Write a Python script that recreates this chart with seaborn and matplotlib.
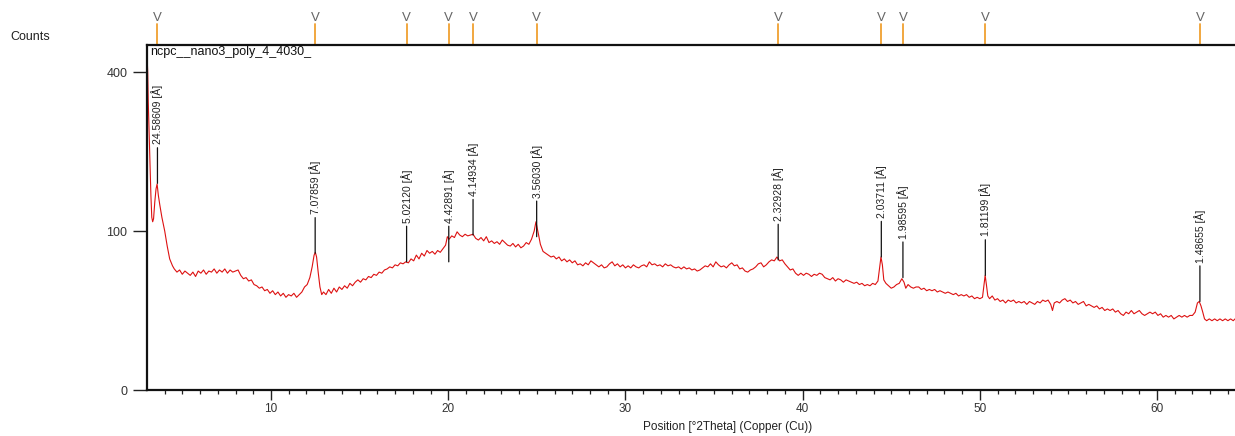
import numpy as np
import matplotlib
matplotlib.use("Agg")
import matplotlib.pyplot as plt
import seaborn as sns

sample_name = "ncpc__nano3_poly_4_4030_"

# scan (2theta in degrees, counts)
two_theta = [
    3.00, 3.04, 3.07, 3.12, 3.17, 3.22, 3.27, 3.32, 3.37, 3.44, 3.51, 3.57, 3.64, 3.72, 3.84, 4.00,
    4.14, 4.28, 4.44, 4.54, 4.69, 4.84, 4.99, 5.14, 5.29, 5.44, 5.59, 5.74, 5.89, 6.04, 6.19, 6.34,
    6.49, 6.64, 6.79, 6.94, 7.09, 7.24, 7.39, 7.54, 7.69, 7.84, 7.99, 8.14, 8.29, 8.44, 8.59, 8.74,
    8.89, 9.04, 9.19, 9.34, 9.49, 9.64, 9.79, 9.94, 10.09, 10.24, 10.39, 10.54, 10.69, 10.84, 10.99,
    11.14, 11.29, 11.44, 11.59, 11.74, 11.89, 12.04, 12.19, 12.32, 12.43, 12.50, 12.57, 12.66, 12.76,
    12.86, 12.96, 13.10, 13.25, 13.40, 13.55, 13.70, 13.85, 14.00, 14.15, 14.30, 14.45, 14.60, 14.75,
    14.90, 15.05, 15.20, 15.35, 15.50, 15.65, 15.80, 15.95, 16.10, 16.25, 16.40, 16.55, 16.70, 16.85,
    17.00, 17.15, 17.30, 17.45, 17.60, 17.75, 17.90, 18.05, 18.20, 18.35, 18.50, 18.65, 18.80, 18.95,
    19.10, 19.25, 19.40, 19.55, 19.70, 19.85, 19.95, 20.05, 20.20, 20.35, 20.50, 20.65, 20.80, 20.95,
    21.10, 21.25, 21.40, 21.55, 21.70, 21.85, 22.00, 22.15, 22.30, 22.45, 22.60, 22.75, 22.90, 23.05,
    23.20, 23.35, 23.50, 23.65, 23.80, 23.95, 24.10, 24.25, 24.40, 24.55, 24.70, 24.85, 24.95, 25.02,
    25.10, 25.20, 25.35, 25.50, 25.65, 25.80, 25.95, 26.10, 26.25, 26.40, 26.55, 26.70, 26.85, 27.00,
    27.15, 27.30, 27.45, 27.60, 27.75, 27.90, 28.05, 28.20, 28.35, 28.50, 28.65, 28.80, 28.95, 29.10,
    29.25, 29.40, 29.55, 29.70, 29.85, 30.00, 30.15, 30.30, 30.45, 30.60, 30.75, 30.90, 31.05, 31.20,
    31.35, 31.50, 31.65, 31.80, 31.95, 32.10, 32.25, 32.40, 32.55, 32.70, 32.85, 33.00, 33.15, 33.30,
    33.45, 33.60, 33.75, 33.90, 34.05, 34.20, 34.35, 34.50, 34.65, 34.80, 34.95, 35.10, 35.25, 35.40,
    35.55, 35.70, 35.85, 36.00, 36.15, 36.30, 36.45, 36.60, 36.75, 36.90, 37.05, 37.20, 37.35, 37.50,
    37.65, 37.80, 37.95, 38.10, 38.25, 38.40, 38.55, 38.70, 38.85, 39.00, 39.15, 39.30, 39.45, 39.60,
    39.75, 39.90, 40.05, 40.20, 40.35, 40.50, 40.65, 40.80, 40.95, 41.10, 41.25, 41.40, 41.55, 41.70,
    41.85, 42.00, 42.15, 42.30, 42.45, 42.60, 42.75, 42.90, 43.05, 43.20, 43.35, 43.50, 43.65, 43.80,
    43.95, 44.10, 44.25, 44.35, 44.42, 44.50, 44.58, 44.70, 44.85, 45.00, 45.15, 45.30, 45.45, 45.60,
    45.72, 45.82, 45.95, 46.10, 46.25, 46.40, 46.55, 46.70, 46.85, 47.00, 47.15, 47.30, 47.45, 47.60,
    47.75, 47.90, 48.05, 48.20, 48.35, 48.50, 48.65, 48.80, 48.95, 49.10, 49.25, 49.40, 49.55, 49.70,
    49.85, 50.00, 50.15, 50.25, 50.30, 50.37, 50.45, 50.55, 50.70, 50.85, 51.00, 51.15, 51.30, 51.45,
    51.60, 51.75, 51.90, 52.05, 52.20, 52.35, 52.50, 52.65, 52.80, 52.95, 53.10, 53.25, 53.40, 53.55,
    53.70, 53.85, 54.00, 54.10, 54.20, 54.35, 54.50, 54.65, 54.80, 54.95, 55.10, 55.25, 55.40, 55.55,
    55.70, 55.85, 56.00, 56.15, 56.30, 56.45, 56.60, 56.75, 56.90, 57.05, 57.20, 57.35, 57.50, 57.65,
    57.80, 57.95, 58.10, 58.25, 58.40, 58.55, 58.70, 58.85, 59.00, 59.15, 59.30, 59.45, 59.60, 59.75,
    59.90, 60.05, 60.20, 60.35, 60.50, 60.65, 60.80, 60.95, 61.10, 61.25, 61.40, 61.55, 61.70, 61.85,
    62.00, 62.15, 62.28, 62.38, 62.48, 62.58, 62.68, 62.80, 62.95, 63.10, 63.25, 63.40, 63.55, 63.70,
    63.85, 64.00, 64.15, 64.30, 64.40,
]
counts = [
    445, 400, 330, 260, 200, 150, 118, 112, 116, 140, 160, 168, 150, 136, 118, 100,
    82, 68, 61, 58, 55, 57, 53, 56, 54, 52, 55, 51, 56, 54, 57, 53,
    56, 55, 58, 54, 57, 55, 58, 54, 57, 55, 56, 57, 52, 49, 50, 47,
    48, 44, 43, 41, 42, 39, 40, 37, 39, 36, 38, 35, 37, 34, 36,
    35, 37, 34, 36, 38, 42, 44, 50, 60, 72, 75, 70, 55, 42,
    36, 38, 36, 40, 37, 41, 38, 42, 40, 43, 41, 45, 43, 46,
    48, 46, 49, 48, 51, 50, 53, 52, 55, 54, 57, 58, 60, 59,
    62, 61, 64, 63, 65, 64, 68, 66, 72, 68, 74, 71, 77, 74,
    76, 73, 77, 75, 79, 83, 93, 90, 94, 92, 99, 95, 93, 96,
    94, 95, 96, 91, 89, 92, 88, 93, 86, 88, 85, 87, 84, 89,
    86, 83, 82, 85, 81, 84, 80, 82, 86, 84, 90, 100, 112, 104,
    95, 84, 76, 74, 72, 70, 71, 68, 70, 66, 68, 65, 67, 64,
    66, 62, 63, 61, 64, 62, 66, 64, 62, 60, 62, 59, 60, 63,
    65, 61, 63, 60, 62, 59, 61, 59, 62, 60, 59, 61, 62, 60,
    65, 62, 63, 61, 62, 60, 63, 61, 62, 60, 59, 60, 58, 60,
    58, 59, 57, 58, 56, 57, 59, 61, 60, 63, 60, 65, 62, 60,
    61, 59, 62, 64, 61, 62, 58, 59, 56, 55, 57, 58, 60, 63,
    64, 60, 62, 65, 67, 66, 70, 66, 67, 63, 60, 57, 58, 54,
    52, 54, 52, 54, 53, 51, 53, 52, 54, 53, 50, 49, 48, 50,
    47, 49, 48, 46, 48, 47, 46, 45, 46, 44, 45, 43, 44, 43,
    45, 44, 47, 60, 70, 62, 48, 45, 43, 41, 42, 44, 45, 49,
    46, 41, 44, 42, 41, 42, 42, 40, 41, 39, 40, 39, 40, 38,
    39, 38, 37, 38, 37, 36, 37, 35, 36, 35, 36, 34, 35, 33,
    34, 33, 34, 46, 52, 44, 35, 33, 35, 32, 33, 31, 32, 30,
    32, 31, 32, 30, 31, 30, 31, 29, 31, 30, 29, 31, 30, 32,
    31, 32, 29, 25, 30, 31, 30, 32, 33, 31, 32, 30, 31, 29,
    30, 31, 28, 29, 28, 27, 28, 26, 27, 25, 26, 25, 26, 24,
    25, 23, 22, 24, 23, 25, 23, 24, 25, 23, 22, 23, 24, 23,
    24, 22, 23, 21, 22, 21, 22, 20, 21, 22, 21, 22, 21, 22,
    22, 24, 30, 31, 28, 24, 20, 19, 20, 19, 20, 19, 20, 19,
    20, 19, 20, 19, 20,
]

# labelled peaks: position (2theta), d-spacing text, height where the marker line starts
peak_pos = [3.59, 12.49, 17.65, 20.03, 21.40, 24.99, 38.62, 44.44, 45.66, 50.31, 62.42]
peak_d = ["24.58609", "7.07859", "5.02120", "4.42891", "4.14934", "3.56030",
          "2.32928", "2.03711", "1.98595", "1.81199", "1.48655"]
peak_height = [169, 74, 65, 65, 95, 93, 67, 70, 50, 52, 31]

sns.set_style("white")
plt.rcParams["font.family"] = ["Liberation Sans", "DejaVu Sans"]

fig = plt.figure(figsize=(12.35, 4.36), dpi=100)
ax = fig.add_axes([147 / 1235, 1 - 390 / 436, 1 - 147 / 1235, (390 - 45) / 436])

sns.lineplot(x=two_theta, y=counts, ax=ax, color="#dd1111", linewidth=0.8,
             estimator=None, sort=False)

ax.set_yscale("function", functions=(lambda v: np.sqrt(np.clip(v, 0, None)), lambda v: v ** 2))
ax.set_xlim(3.0, 64.4)
ax.set_ylim(0, 471)
ax.set_yticks([0, 100, 400])
ax.set_xticks([10, 20, 30, 40, 50, 60])
ax.set_xticks(np.arange(4, 65, 1), minor=True)
ax.tick_params(axis="y", which="major", direction="out", length=10, width=1,
               color="#222222", labelsize=9, labelcolor="#333333", pad=4, left=True)
ax.tick_params(axis="x", which="major", direction="out", length=7.5, width=1,
               color="#222222", labelsize=8.5, labelcolor="#333333", pad=2, bottom=True)
ax.tick_params(axis="x", which="minor", direction="out", length=3, width=0.9,
               color="#222222", bottom=True)
ax.set_xlabel("")
ax.set_ylabel("")

for side in ["left", "bottom", "top"]:
    ax.spines[side].set_color("#111111")
    ax.spines[side].set_linewidth(1.6)
ax.spines["right"].set_visible(False)

ax.text(0.003, 0.997, sample_name, transform=ax.transAxes, ha="left", va="top",
        fontsize=9, color="#111111")

# d-spacing labels
for pos, d, h in zip(peak_pos, peak_d, peak_height):
    ax.annotate(d + " [Å]", xy=(pos, h), xytext=(0, 28), textcoords="offset points",
                rotation=90, ha="center", va="bottom", fontsize=7.5, color="#222222",
                arrowprops=dict(arrowstyle="-", color="#111111", lw=0.9,
                                shrinkA=0, shrinkB=0))

# reference markers above the frame
xt = ax.get_xaxis_transform()
for pos in peak_pos:
    ax.plot([pos, pos], [1.0, 1.062], transform=xt, color="#f0a030", lw=1.3, clip_on=False)
    ax.text(pos, 1.078, "V", transform=xt, ha="center", va="center", fontsize=9.5,
            color="#666666", clip_on=False)

fig.text(10 / 1235, 1 - 37 / 436, "Counts", ha="left", va="center", fontsize=9, color="#222222")
fig.text(728 / 1235, 1 - 427 / 436, "Position [°2Theta] (Copper (Cu))", ha="center",
         va="center", fontsize=8.5, color="#222222")

fig.savefig("out.png", dpi=100)
